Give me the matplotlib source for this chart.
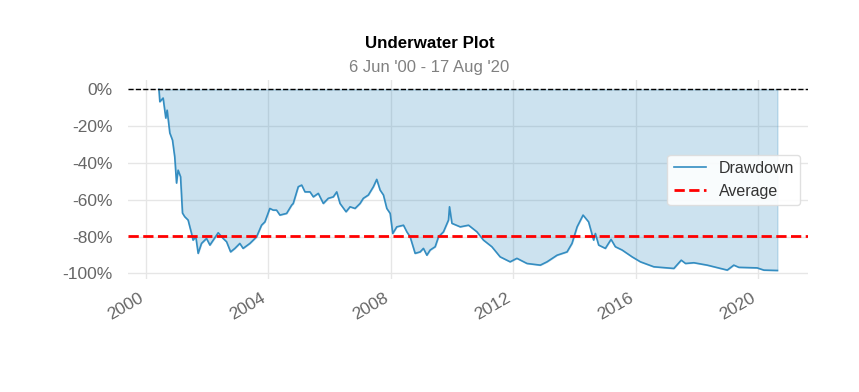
import pandas as pd
import matplotlib
matplotlib.use("Agg")
import matplotlib.pyplot as plt
import matplotlib.dates as mdates
from matplotlib.ticker import FuncFormatter

plt.rcParams['font.family'] = ['Liberation Sans', 'DejaVu Sans']

# drawdown readings (percent below previous peak)
dates = [
    "2000-06-06", "2000-06-17", "2000-07-26", "2000-08-27", "2000-09-12", "2000-10-14",
    "2000-11-15", "2000-12-12", "2001-01-02", "2001-01-21", "2001-02-19", "2001-03-14",
    "2001-04-10", "2001-05-20", "2001-06-29", "2001-07-18", "2001-08-20", "2001-09-17",
    "2001-10-27", "2001-12-26", "2002-02-04", "2002-05-14", "2002-07-12", "2002-08-22",
    "2002-10-09", "2002-11-29", "2003-01-27", "2003-03-07", "2003-05-27", "2003-08-15",
    "2003-10-13", "2003-11-22", "2004-01-20", "2004-02-29", "2004-04-09", "2004-05-19",
    "2004-08-07", "2004-10-06", "2004-10-25", "2004-12-24", "2005-02-03", "2005-03-14",
    "2005-05-13", "2005-06-22", "2005-08-20", "2005-10-19", "2005-12-17", "2006-02-15",
    "2006-03-28", "2006-05-06", "2006-07-17", "2006-09-03", "2006-11-01", "2006-12-31",
    "2007-02-08", "2007-04-09", "2007-06-08", "2007-07-18", "2007-08-27", "2007-10-06",
    "2007-11-15", "2007-12-25", "2008-01-25", "2008-03-13", "2008-06-01", "2008-07-11",
    "2008-08-19", "2008-10-18", "2008-12-17", "2009-01-25", "2009-03-07", "2009-04-15",
    "2009-06-14", "2009-07-24", "2009-09-21", "2009-11-20", "2009-12-02", "2009-12-31",
    "2010-04-09", "2010-07-17", "2010-10-25", "2011-01-11", "2011-04-21", "2011-07-29",
    "2011-11-25", "2012-02-14", "2012-06-13", "2012-11-19", "2013-02-07", "2013-06-07",
    "2013-10-04", "2013-12-02", "2014-02-01", "2014-04-13", "2014-06-18", "2014-08-17",
    "2014-09-07", "2014-10-16", "2015-01-04", "2015-03-13", "2015-05-03", "2015-07-23",
    "2015-11-19", "2016-02-26", "2016-08-04", "2017-03-31", "2017-06-27", "2017-08-17",
    "2017-11-24", "2018-05-03", "2018-12-28", "2019-03-16", "2019-05-15", "2019-12-20",
    "2020-03-08", "2020-08-17",
]
drawdown = [
    0.0, -6.7, -4.7, -15.6, -11.3, -23.7,
    -27.6, -36.8, -50.9, -43.9, -47.5, -67.2,
    -69.2, -71.0, -78.1, -81.9, -80.1, -89.1,
    -83.7, -81.0, -84.6, -77.9, -81.0, -82.8,
    -88.3, -86.4, -83.7, -86.4, -83.7, -80.1,
    -73.8, -72.0, -64.7, -65.6, -65.6, -68.3,
    -67.4, -62.9, -62.0, -52.9, -52.0, -55.7,
    -55.7, -58.4, -56.5, -62.0, -59.2, -58.4,
    -55.7, -62.0, -66.5, -63.8, -64.7, -62.0,
    -59.2, -57.4, -52.9, -48.9, -54.7, -57.4,
    -64.7, -67.4, -78.3, -74.7, -73.8, -77.4,
    -80.1, -89.1, -88.3, -86.4, -90.1, -87.3,
    -85.5, -80.1, -77.4, -71.0, -63.8, -72.8,
    -74.7, -73.8, -77.4, -81.9, -85.5, -91.0,
    -93.7, -91.8, -94.6, -95.5, -93.7, -90.1,
    -88.3, -83.7, -74.7, -68.3, -72.0, -81.9,
    -78.3, -84.6, -86.4, -81.5, -85.5, -87.3,
    -91.0, -93.7, -96.4, -97.3, -92.8, -94.6,
    -94.2, -95.5, -98.2, -95.5, -96.7, -97.0,
    -98.2, -98.4,
]
average_dd = -79.7

title = "Underwater Plot"
subtitle = "6 Jun '00 - 17 Aug '20"

dd = pd.Series([v / 100 for v in drawdown], index=pd.to_datetime(dates))

fig = plt.figure(figsize=(8.59, 3.92), dpi=100)
ax = fig.add_axes([0.149, 0.287, 0.792, 0.508])

blue = "#348dc1"
ax.plot(dd.index, dd.values, color=blue, lw=1.2, label="Drawdown")
ax.fill_between(dd.index, 0, dd.values, color=blue, alpha=0.25)
ax.axhline(0, color="black", ls="--", lw=1, zorder=2)
ax.axhline(average_dd / 100, color="red", ls="--", lw=2, label="Average", zorder=2)

ax.set_ylim(-1.033, 0.049)
ax.set_yticks([0, -0.2, -0.4, -0.6, -0.8, -1.0])
ax.yaxis.set_major_formatter(FuncFormatter(lambda v, p: f"{v*100:.0f}%"))
ax.xaxis.set_major_locator(mdates.YearLocator(4))
ax.xaxis.set_major_formatter(mdates.DateFormatter("%Y"))
for lbl in ax.get_xticklabels():
    lbl.set_rotation(30)
    lbl.set_ha("right")

ax.grid(True, color="#e6e6e6", lw=1)
ax.set_axisbelow(True)
for s in ax.spines.values():
    s.set_visible(False)
ax.tick_params(axis="both", length=0, labelsize=12.5, labelcolor="#666666")
ax.tick_params(axis="y", pad=11)
ax.tick_params(axis="x", pad=8)

leg = ax.legend(loc="center right", fontsize=11.5, frameon=True, facecolor="white",
                edgecolor="#dddddd", framealpha=0.9)
for t in leg.get_texts():
    t.set_color("#333333")

fig.text(0.5, 0.889, title, ha="center", va="center", fontsize=12.2, fontweight="bold")
fig.text(0.5, 0.829, subtitle, ha="center", va="center", fontsize=12, color="#808080")

fig.savefig("out.png", dpi=100)
